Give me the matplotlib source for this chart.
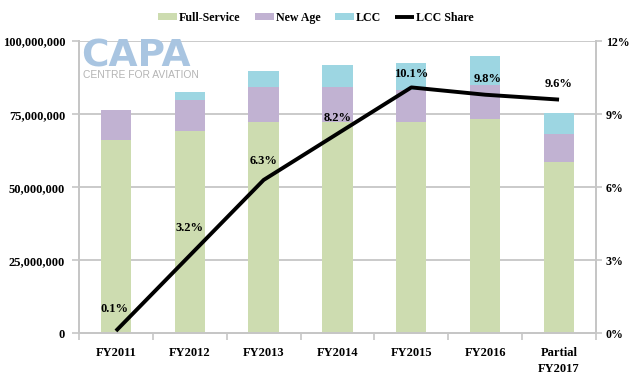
import numpy as np
import matplotlib.pyplot as plt
from matplotlib.ticker import FuncFormatter

# data (passengers)
years = ['FY2011', 'FY2012', 'FY2013', 'FY2014', 'FY2015', 'FY2016', 'Partial\nFY2017']
full_service = [66.2e6, 69.1e6, 72.4e6, 72.5e6, 72.4e6, 73.5e6, 58.5e6]
new_age = [10.3e6, 10.9e6, 11.9e6, 11.8e6, 11.0e6, 11.6e6, 9.7e6]
lcc = [0.1e6, 2.7e6, 5.5e6, 7.5e6, 9.1e6, 9.9e6, 7.2e6]
lcc_share = [0.1, 3.2, 6.3, 8.2, 10.1, 9.8, 9.6]
share_labels = ['0.1%', '3.2%', '6.3%', '8.2%', '10.1%', '9.8%', '9.6%']

c_green = '#cddcb0'
c_purple = '#c1b2d2'
c_cyan = '#9dd6e2'
c_grid = '#c6c6c6'
serif = ['Liberation Serif', 'DejaVu Serif']
fsz = 9

fig = plt.figure(figsize=(6.32, 3.81), dpi=100)
ax = fig.add_axes([0.125, 0.125, 0.818, 0.767])
ax2 = ax.twinx()

x = np.arange(len(years))
w = 0.41
fs = np.array(full_service)
na = np.array(new_age)
lc = np.array(lcc)
ax.bar(x, fs, w, color=c_green, label='Full-Service', zorder=2)
ax.bar(x, na, w, bottom=fs, color=c_purple, label='New Age', zorder=2)
ax.bar(x, lc, w, bottom=fs + na, color=c_cyan, label='LCC', zorder=2)

ax.set_xlim(-0.5, len(years) - 0.5)
ax.set_ylim(0, 100e6)
ax.set_yticks(np.arange(0, 100e6 + 1, 25e6))
ax.yaxis.set_major_formatter(FuncFormatter(lambda v, p: '{:,.0f}'.format(v)))
ax.grid(axis='y', color=c_grid, lw=1.3, zorder=0)
ax.set_axisbelow(True)
ax.set_xticks(x)
ax.set_xticklabels(years, linespacing=1.45)
ax.set_xticks(np.arange(-0.5, len(years), 1), minor=True)
ax.tick_params(axis='x', which='major', length=0, pad=10)
ax.tick_params(axis='x', which='minor', length=5, color=c_grid, width=1.2)
ax.tick_params(axis='y', length=5, color=c_grid, width=1.2, pad=5)
for lab in ax.get_xticklabels() + ax.get_yticklabels():
    lab.set_family(serif)
    lab.set_fontweight('bold')
    lab.set_fontsize(fsz)

ax2.plot(x, lcc_share, color='black', lw=2.8, label='LCC Share', zorder=3,
         solid_capstyle='butt')
ax2.set_ylim(0, 12)
ax2.set_yticks([0, 3, 6, 9, 12])
ax2.set_yticklabels(['0%', '3%', '6%', '9%', '12%'])
ax2.tick_params(axis='y', length=4, color=c_grid, width=1.2, pad=3)
for lab in ax2.get_yticklabels():
    lab.set_family(serif)
    lab.set_fontweight('bold')
    lab.set_fontsize(8.6)

label_dy = [16, 20, 14, 11, 10, 11, 11]
label_dx = [-1, 0, 0, 0, 0, 2, 0]
for i, t in enumerate(share_labels):
    ax2.annotate(t, (x[i], lcc_share[i]), xytext=(label_dx[i], label_dy[i]),
                 textcoords='offset points', ha='center', va='center',
                 family=serif, fontweight='bold', fontsize=fsz, zorder=4)

for a in (ax, ax2):
    a.spines['top'].set_visible(False)
    for s in ('left', 'right', 'bottom'):
        a.spines[s].set_color(c_grid)
        a.spines[s].set_linewidth(1.3)

# CAPA logo
fig.text(0.129, 0.826, 'CAPA', fontsize=27, fontweight='bold', color='#a9c5e1',
         family='DejaVu Sans', ha='left', va='baseline')
fig.text(0.131, 0.794, 'CENTRE FOR AVIATION', fontsize=7.4, color='#b4b4b4',
         family='Liberation Sans', ha='left', va='baseline')

h1, l1 = ax.get_legend_handles_labels()
h2, l2 = ax2.get_legend_handles_labels()
leg = fig.legend(h1 + h2, l1 + l2, loc='center', bbox_to_anchor=(0.5, 0.953),
                 ncol=4, frameon=False, handlelength=1.6, handleheight=0.5,
                 columnspacing=1.2, handletextpad=0.15,
                 prop={'family': serif, 'weight': 'bold', 'size': 8.6})

fig.savefig('out.png', dpi=100)
